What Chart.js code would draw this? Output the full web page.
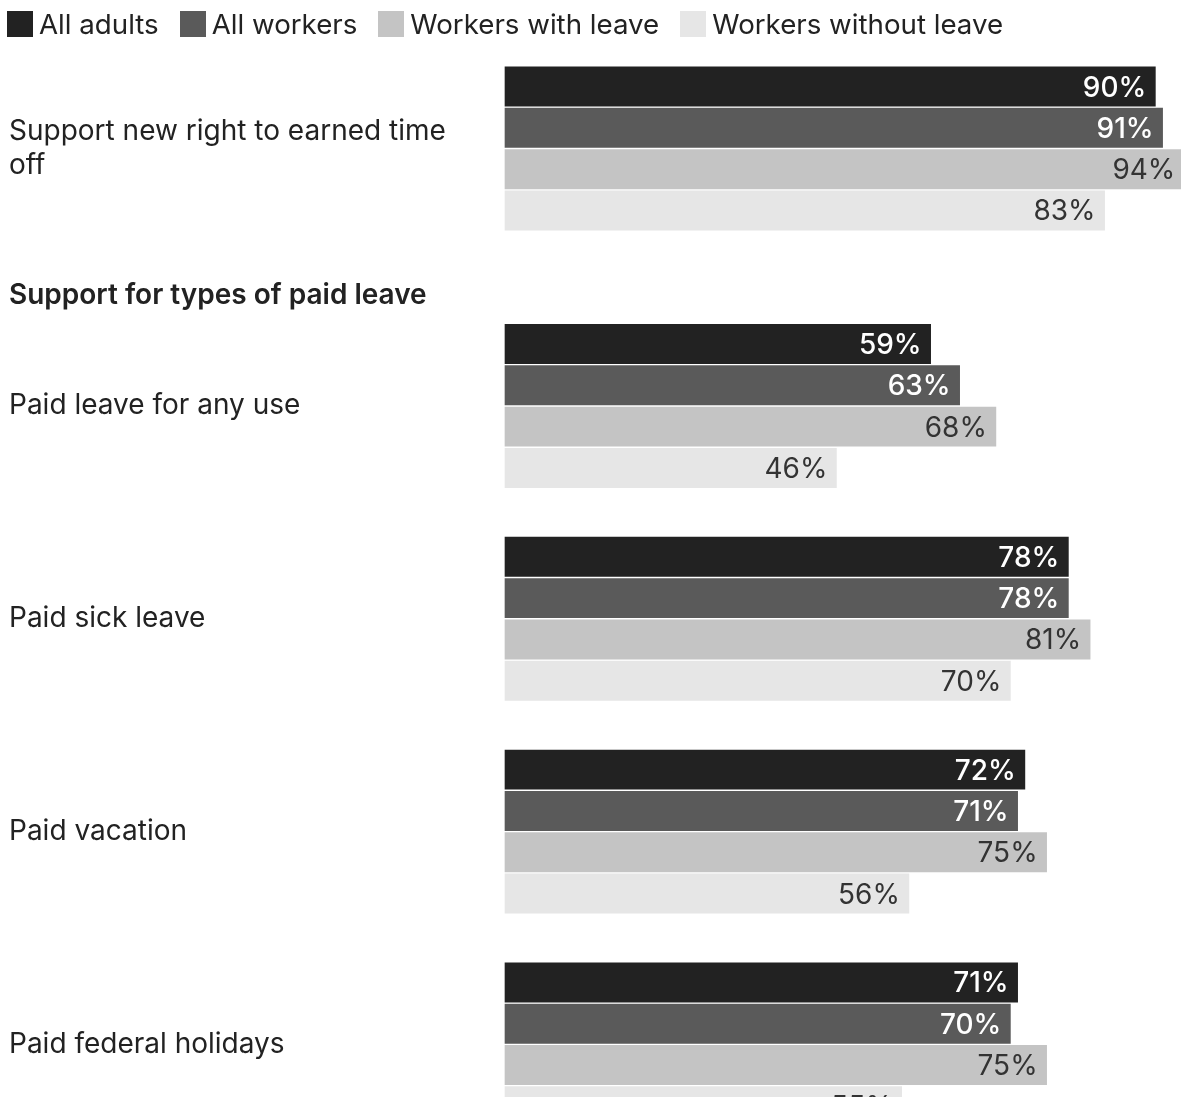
<!DOCTYPE html>
<html>
<head>
<meta charset="utf-8">
<script src="https://cdn.jsdelivr.net/npm/chart.js@4.4.1/dist/chart.umd.min.js"></script>
<style>
  html, body { margin: 0; padding: 0; background: #fff; overflow: hidden; width: 1181px; height: 1097px; }
  #wrap { position: relative; width: 1181px; height: 1097px; overflow: hidden; }
  #legend { position: absolute; left: 7px; top: 7px; display: flex; align-items: center; font-family: Inter, sans-serif; font-size: 27.7px; color: #222; white-space: nowrap; }
  #legend .item { display: flex; align-items: center; margin-right: 21px; }
  #legend .sw { width: 26px; height: 26px; margin-right: 6px; }
  canvas { position: absolute; left: 0; top: 0; }
</style>
</head>
<body>
<div id="wrap">
  <canvas id="c" width="1181" height="1300"></canvas>
  <div id="legend"></div>
</div>
<script>
// ---- data ----
const categories = [
  "Support new right to earned time off",
  "Paid leave for any use",
  "Paid sick leave",
  "Paid vacation",
  "Paid federal holidays"
];
const sectionHeading = "Support for types of paid leave";
const seriesNames = ["All adults", "All workers", "Workers with leave", "Workers without leave"];
const allAdults = [90, 59, 78, 72, 71];
const allWorkers = [91, 63, 78, 71, 70];
const workersWithLeave = [94, 68, 81, 75, 75];
const workersWithoutLeave = [83, 46, 70, 56, 55];

// ---- styling ----
const colors = ["#222222", "#5a5a5a", "#c4c4c4", "#e6e6e6"];
const labelColors = ["#ffffff", "#ffffff", "#333333", "#333333"];
const labelWeights = ["500", "500", "400", "400"];
const FONT = "Inter, 'Noto Sans', sans-serif";

// layout (in units of one group slot)
const UNIT = 212.8;
const CH = 1300, TOP = 50, BOTTOM_PAD = 20;
const headingOffset = 0.21;
const headingPos = 0.693;
const posOf = i => i + (i >= 1 ? headingOffset : 0);
const yMin = -(148.5 - TOP) / UNIT;
const yMax = yMin + (CH - TOP - BOTTOM_PAD) / UNIT;

const mctx = document.createElement('canvas').getContext('2d');
function wrap(text, font, maxW) {
  mctx.font = font;
  const words = text.split(' ');
  const lines = [];
  let cur = '';
  for (const w of words) {
    const t = cur ? cur + ' ' + w : w;
    if (mctx.measureText(t).width > maxW && cur) { lines.push(cur); cur = w; }
    else cur = t;
  }
  if (cur) lines.push(cur);
  return lines.length > 1 ? lines : lines[0];
}

const tickDefs = [];
categories.forEach((c, i) => {
  tickDefs.push({ value: posOf(i), label: wrap(c, "28px " + FONT, 455), bold: false });
  if (i === 0) tickDefs.push({ value: headingPos, label: sectionHeading, bold: true });
});

const seriesValues = [allAdults, allWorkers, workersWithLeave, workersWithoutLeave];
const datasets = seriesValues.map((vals, k) => ({
  label: seriesNames[k],
  data: vals.map((v, i) => ({ x: v, y: posOf(i) })),
  backgroundColor: colors[k],
  borderColor: "rgba(255,255,255,0.55)",
  borderWidth: 1,
  borderSkipped: false,
  barThickness: 41.3,
  clip: false
}));

const leg = document.getElementById('legend');
seriesNames.forEach((n, k) => {
  const it = document.createElement('div'); it.className = 'item';
  const sw = document.createElement('div'); sw.className = 'sw'; sw.style.background = colors[k];
  const tx = document.createElement('span'); tx.textContent = n;
  it.appendChild(sw); it.appendChild(tx); leg.appendChild(it);
});

const valueLabels = {
  id: 'valueLabels',
  afterDatasetsDraw(chart) {
    const ctx = chart.ctx;
    ctx.save();
    ctx.textAlign = 'right';
    ctx.textBaseline = 'alphabetic';
    chart.data.datasets.forEach((ds, k) => {
      const meta = chart.getDatasetMeta(k);
      ctx.font = labelWeights[k] + " 28px " + FONT;
      ctx.fillStyle = labelColors[k];
      meta.data.forEach((bar, i) => {
        ctx.fillText(seriesValues[k][i] + '%', bar.x - 10, bar.y + 10);
      });
    });
    ctx.restore();
  }
};

Chart.defaults.font.family = FONT;
new Chart(document.getElementById('c'), {
  type: 'bar',
  data: { datasets },
  options: {
    indexAxis: 'y',
    responsive: false,
    animation: false,
    layout: { padding: { top: TOP, left: 9, right: 0, bottom: BOTTOM_PAD } },
    plugins: { legend: { display: false }, tooltip: { enabled: false } },
    scales: {
      x: { type: 'linear', min: 0, max: 93.4, display: false },
      y: {
        type: 'linear', reverse: true, min: yMin, max: yMax, offset: false,
        grid: { display: false }, border: { display: false },
        afterBuildTicks: s => { s.ticks = tickDefs.map(t => ({ value: t.value })); },
        afterFit: s => { s.width = 495; s.paddingTop = 0; s.paddingBottom = 0; },
        ticks: {
          autoSkip: false,
          crossAlign: 'far',
          color: '#222',
          font: ctx => {
            const d = tickDefs[ctx.index];
            return { size: 28, weight: d && d.bold ? '600' : '400', family: FONT };
          },
          callback: (v, i) => tickDefs[i] ? tickDefs[i].label : ''
        }
      }
    }
  },
  plugins: [valueLabels]
});
</script>
</body>
</html>
